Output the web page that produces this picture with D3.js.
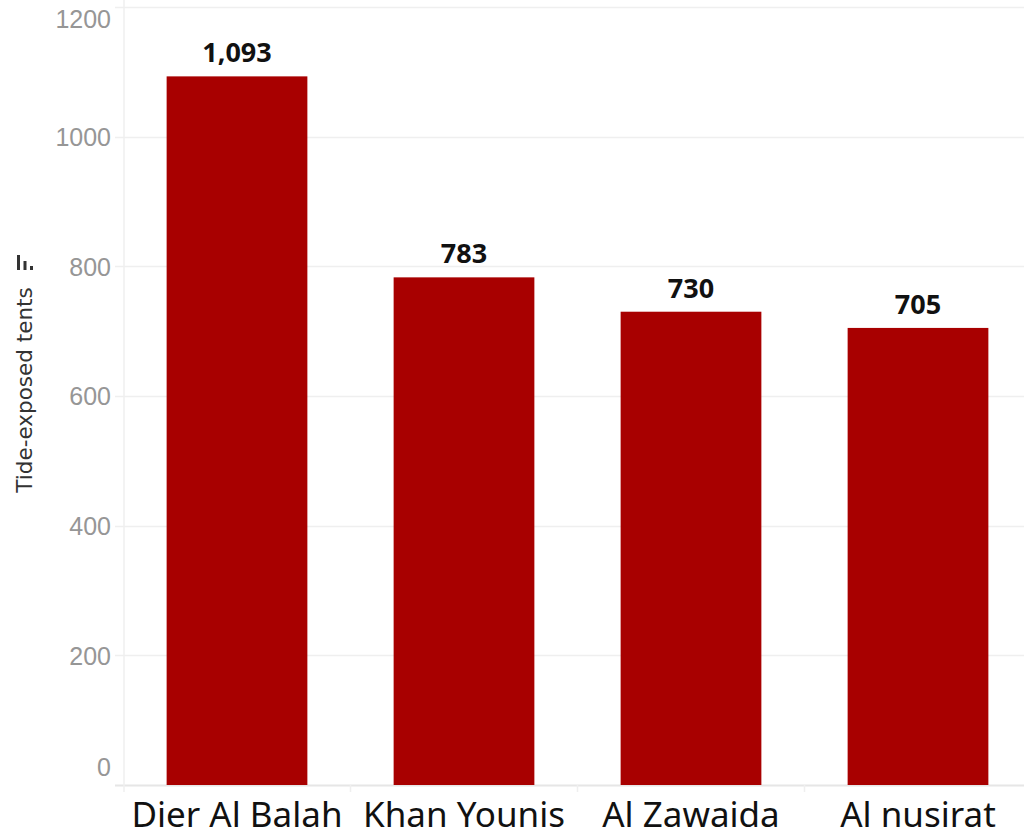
<!DOCTYPE html>
<html><head><meta charset="utf-8">
<script src="https://cdn.jsdelivr.net/npm/d3@7"></script>
<style>body{margin:0;background:#fff;} svg{display:block;}</style>
</head><body>
<div id="chart"></div>
<script>
const categories = ["Dier Al Balah", "Khan Younis", "Al Zawaida", "Al nusirat"];
const values = [1093, 783, 730, 705];
const valueLabels = ["1,093", "783", "730", "705"];
const yTicks = [0, 200, 400, 600, 800, 1000, 1200];
const yTitle = "Tide-exposed tents";

const W = 1024, H = 836;
const svg = d3.select("#chart").append("svg").attr("width", W).attr("height", H);

const y = d3.scaleLinear().domain([0, 1200]).range([785, 7]);
const x = d3.scaleBand().domain(categories).range([123.5, 1031.5]).paddingInner(0.38).paddingOuter(0.19);

// gridlines
svg.append("g").selectAll("line").data(yTicks).join("line")
  .attr("x1", 115).attr("x2", W)
  .attr("y1", d => Math.round(y(d)) + 0.5).attr("y2", d => Math.round(y(d)) + 0.5)
  .attr("stroke", d => d === 0 ? "#e6e6e6" : "#efefef").attr("stroke-width", d => d === 0 ? 2 : 1.5);

// y axis line
svg.append("line").attr("x1", 124).attr("x2", 124).attr("y1", 0).attr("y2", 792)
  .attr("stroke", "#efefef").attr("stroke-width", 1.5);

// category boundary ticks
const bounds = categories.slice(1).map(c => x(c) - x.step() * x.paddingInner() / 2);
svg.append("g").selectAll("line").data(bounds).join("line")
  .attr("x1", d => d).attr("x2", d => d).attr("y1", 785).attr("y2", 792)
  .attr("stroke", "#efefef").attr("stroke-width", 1.5);

// y tick labels via axis (edge labels nudged inward, as in the reference)
const yAxis = svg.append("g").attr("transform", "translate(111,0)")
  .call(d3.axisLeft(y).tickValues(yTicks).tickSize(0).tickPadding(0).tickFormat(d3.format("d")));
yAxis.select(".domain").remove();
yAxis.selectAll("text").attr("font-family", "Liberation Sans, Arial, sans-serif")
  .attr("font-size", 25).attr("fill", "#969696")
  .attr("dy", d => d === 1200 ? "0.8em" : d === 0 ? "-0.38em" : "0.35em");

// bars
svg.append("g").selectAll("rect").data(values).join("rect")
  .attr("x", (d, i) => x(categories[i])).attr("width", x.bandwidth())
  .attr("y", d => y(d)).attr("height", d => y(0) - y(d))
  .attr("fill", "#a80000");

// value labels
svg.append("g").selectAll("text").data(values).join("text")
  .attr("x", (d, i) => x(categories[i]) + x.bandwidth() / 2)
  .attr("y", d => y(d) - 14)
  .attr("text-anchor", "middle")
  .attr("font-family", "Noto Sans, sans-serif").attr("font-weight", "bold")
  .attr("font-size", 27).attr("fill", "#111")
  .text((d, i) => valueLabels[i]);

// category labels
svg.append("g").selectAll("text").data(categories).join("text")
  .attr("x", d => x(d) + x.bandwidth() / 2).attr("y", 827)
  .attr("text-anchor", "middle")
  .attr("font-family", "Noto Sans, sans-serif").attr("font-size", 35).attr("fill", "#111")
  .text(d => d);

// y axis title
svg.append("text").attr("transform", "translate(32,390) rotate(-90)")
  .attr("text-anchor", "middle")
  .attr("font-family", "DejaVu Sans, sans-serif").attr("font-size", 21.5).attr("fill", "#333")
  .text(yTitle);

// sort icon
const icon = svg.append("g").attr("fill", "#333");
icon.append("rect").attr("x", 17).attr("y", 255).attr("width", 3).attr("height", 15);
icon.append("rect").attr("x", 23.5).attr("y", 261).attr("width", 3).attr("height", 9);
icon.append("rect").attr("x", 30).attr("y", 266).attr("width", 3).attr("height", 4);
</script>
</body></html>
